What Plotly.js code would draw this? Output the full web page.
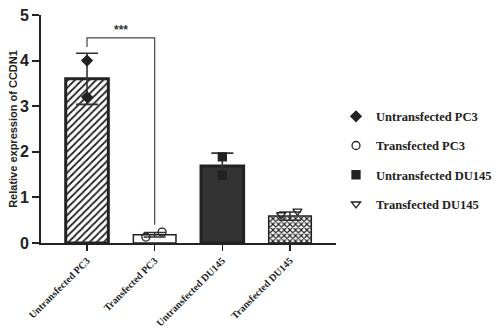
<!DOCTYPE html>
<html>
<head>
<meta charset="utf-8">
<script src="https://cdn.plot.ly/plotly-3.0.1.min.js"></script>
<style>html,body{margin:0;padding:0;background:#fff;}#chart{width:497px;height:329px;}</style>
</head>
<body>
<div id="chart"></div>
<script>
var categories = ['Untransfected PC3', 'Transfected PC3', 'Untransfected DU145', 'Transfected DU145'];
var means = [3.6, 0.18, 1.69, 0.59];
var errors = [0.56, 0.05, 0.28, 0.09];
var pointsUntransPC3 = [4.0, 3.2];
var pointsTransPC3 = [0.13, 0.24];
var pointsUntransDU145 = [1.89, 1.49];
var pointsTransDU145 = [0.62, 0.70];
var jitterUntransPC3 = [0, 0];
var jitterTransPC3 = [-0.13, 0.11];
var jitterUntransDU145 = [0, 0];
var jitterTransDU145 = [-0.13, 0.11];
var yTicks = [0, 1, 2, 3, 4, 5];

var idx = categories.map(function (c, i) { return i; });

var barStyles = [
  { color: '#ffffff', lw: 3, pattern: { shape: '/', fgcolor: '#222222', bgcolor: '#ffffff', size: 5, solidity: 0.35 } },
  { color: '#ffffff', lw: 1.5, pattern: null },
  { color: '#333333', lw: 3, pattern: null },
  { color: '#ffffff', lw: 1.5, pattern: { shape: 'x', fgcolor: '#222222', bgcolor: '#ffffff', size: 4, solidity: 0.5 } }
];

var traces = [];
idx.forEach(function (k) {
  var st = barStyles[k];
  var m = { color: st.color, line: { color: '#222222', width: st.lw } };
  if (st.pattern) m.pattern = st.pattern;
  traces.push({
    type: 'bar', x: [k], y: [means[k]], width: 0.63, showlegend: false, marker: m,
    error_y: { type: 'data', array: [errors[k]], visible: true, color: '#333333', thickness: 1.6, width: 11 }
  });
});

function pts(k, vals, jit, name, symbol, size) {
  return {
    type: 'scatter', mode: 'markers', name: name, legendgroup: 'g' + k,
    x: vals.map(function (v, i) { return k + jit[i]; }),
    y: vals,
    marker: { symbol: symbol, size: size, color: '#222222', line: { color: '#222222', width: 1.3 } }
  };
}

traces.push(pts(0, pointsUntransPC3, jitterUntransPC3, categories[0], 'diamond', 8));
traces.push(pts(1, pointsTransPC3, jitterTransPC3, categories[1], 'circle-open', 8));
traces.push(pts(2, pointsUntransDU145, jitterUntransDU145, categories[2], 'square', 8));
traces.push(pts(3, pointsTransDU145, jitterTransDU145, categories[3], 'triangle-down-open', 8));

var layout = {
  width: 497, height: 329,
  margin: { l: 41, r: 147, t: 15, b: 86 },
  barmode: 'overlay',
  paper_bgcolor: '#ffffff', plot_bgcolor: '#ffffff',
  font: { family: 'Liberation Sans, Arial, sans-serif', color: '#222222' },
  xaxis: {
    range: [-0.68, 3.68], tickmode: 'array', tickvals: idx, ticktext: categories,
    tickangle: -45, showgrid: false, zeroline: false,
    showline: true, linecolor: '#222222', linewidth: 2,
    ticks: 'outside', ticklen: 6, tickwidth: 1.5, tickcolor: '#222222',
    tickfont: { family: 'Liberation Serif, Times New Roman, serif', size: 10, weight: 'bold', color: '#222222' }
  },
  yaxis: {
    range: [0, 5], tickmode: 'array', tickvals: yTicks,
    showgrid: false, zeroline: false,
    showline: true, linecolor: '#222222', linewidth: 2,
    ticks: 'outside', ticklen: 7, tickwidth: 2, tickcolor: '#222222',
    tickfont: { family: 'Liberation Sans, Arial, sans-serif', size: 16, weight: 'bold', color: '#222222' },
    title: { text: 'Relative expression of CCDN1', standoff: 0,
      font: { family: 'Liberation Sans, Arial, sans-serif', size: 11, weight: 'bold', color: '#222222' } }
  },
  legend: {
    xref: 'container', x: 1.0, xanchor: 'right', y: 0.62, yanchor: 'top',
    tracegroupgap: 10, itemwidth: 30,
    font: { family: 'Liberation Serif, Times New Roman, serif', size: 12.5, weight: 'bold', color: '#222222' },
    bgcolor: 'rgba(0,0,0,0)'
  },
  shapes: [
    { type: 'path', xref: 'x', yref: 'y', path: 'M 0 4.3 L 0 4.5 L 1 4.5 L 1 0.4',
      line: { color: '#444444', width: 1.2 } }
  ],
  annotations: [
    { xref: 'x', yref: 'y', x: 0.5, y: 4.67, yanchor: 'middle', text: '***', showarrow: false,
      font: { family: 'Liberation Sans, Arial, sans-serif', size: 12, weight: 'bold', color: '#333333' } }
  ]
};

Plotly.newPlot('chart', traces, layout, { displayModeBar: false, staticPlot: true });
</script>
</body>
</html>
